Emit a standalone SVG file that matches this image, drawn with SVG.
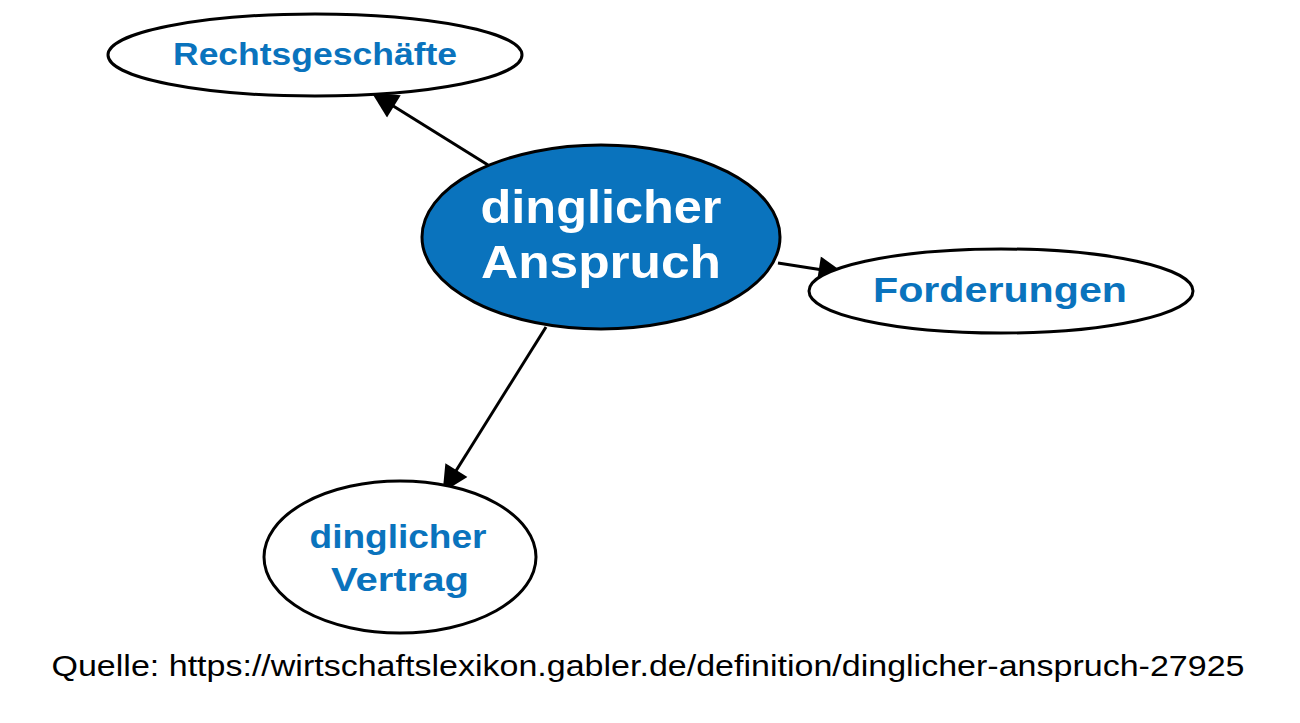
<svg xmlns="http://www.w3.org/2000/svg" width="1300" height="723" viewBox="0 0 1300 723">
<style>
.n{fill:#fff;stroke:#000;stroke-width:3}
.t{font-family:"Liberation Sans",Arial,sans-serif;font-weight:bold;fill:#0a73bd;text-anchor:middle}
.e{stroke:#000;stroke-width:3;fill:none}
</style>
<defs><marker id="a" viewBox="0 0 10 10" refX="9" refY="5" markerWidth="32" markerHeight="26" markerUnits="userSpaceOnUse" orient="auto"><path d="M0,0L10,5L0,10z"/></marker></defs>
<rect width="1300" height="723" fill="#fff"/>
<g id="edges">
<path class="e" d="M488,165L374,94" marker-end="url(#a)"/>
<path class="e" d="M778,263L842,273" marker-end="url(#a)"/>
<path class="e" d="M546,327L444,490" marker-end="url(#a)"/>
</g>
<g id="center"><ellipse cx="601" cy="237" rx="179" ry="92" fill="#0a73bd" stroke="#000" stroke-width="3"/>
<text class="t" x="601" y="223" font-size="46" style="fill:#fff" textLength="241" lengthAdjust="spacingAndGlyphs">dinglicher</text>
<text class="t" x="601" y="278" font-size="46" style="fill:#fff" textLength="240" lengthAdjust="spacingAndGlyphs">Anspruch</text></g>
<g id="n1"><ellipse class="n" cx="315" cy="55" rx="207" ry="41"/><text class="t" x="315" y="65" font-size="31" textLength="284" lengthAdjust="spacingAndGlyphs">Rechtsgeschäfte</text></g>
<g id="n2"><ellipse class="n" cx="1001" cy="291" rx="192" ry="42"/><text class="t" x="1000" y="302" font-size="35" textLength="254" lengthAdjust="spacingAndGlyphs">Forderungen</text></g>
<g id="n3"><ellipse class="n" cx="400" cy="557" rx="136" ry="76"/><text class="t" x="398" y="548" font-size="34" textLength="177" lengthAdjust="spacingAndGlyphs">dinglicher</text><text class="t" x="400" y="591" font-size="34" textLength="138" lengthAdjust="spacingAndGlyphs">Vertrag</text></g>
<text x="648" y="676" font-family="Liberation Sans,Arial,sans-serif" font-size="30" text-anchor="middle" textLength="1193" lengthAdjust="spacingAndGlyphs">Quelle: https://wirtschaftslexikon.gabler.de/definition/dinglicher-anspruch-27925</text>
</svg>
